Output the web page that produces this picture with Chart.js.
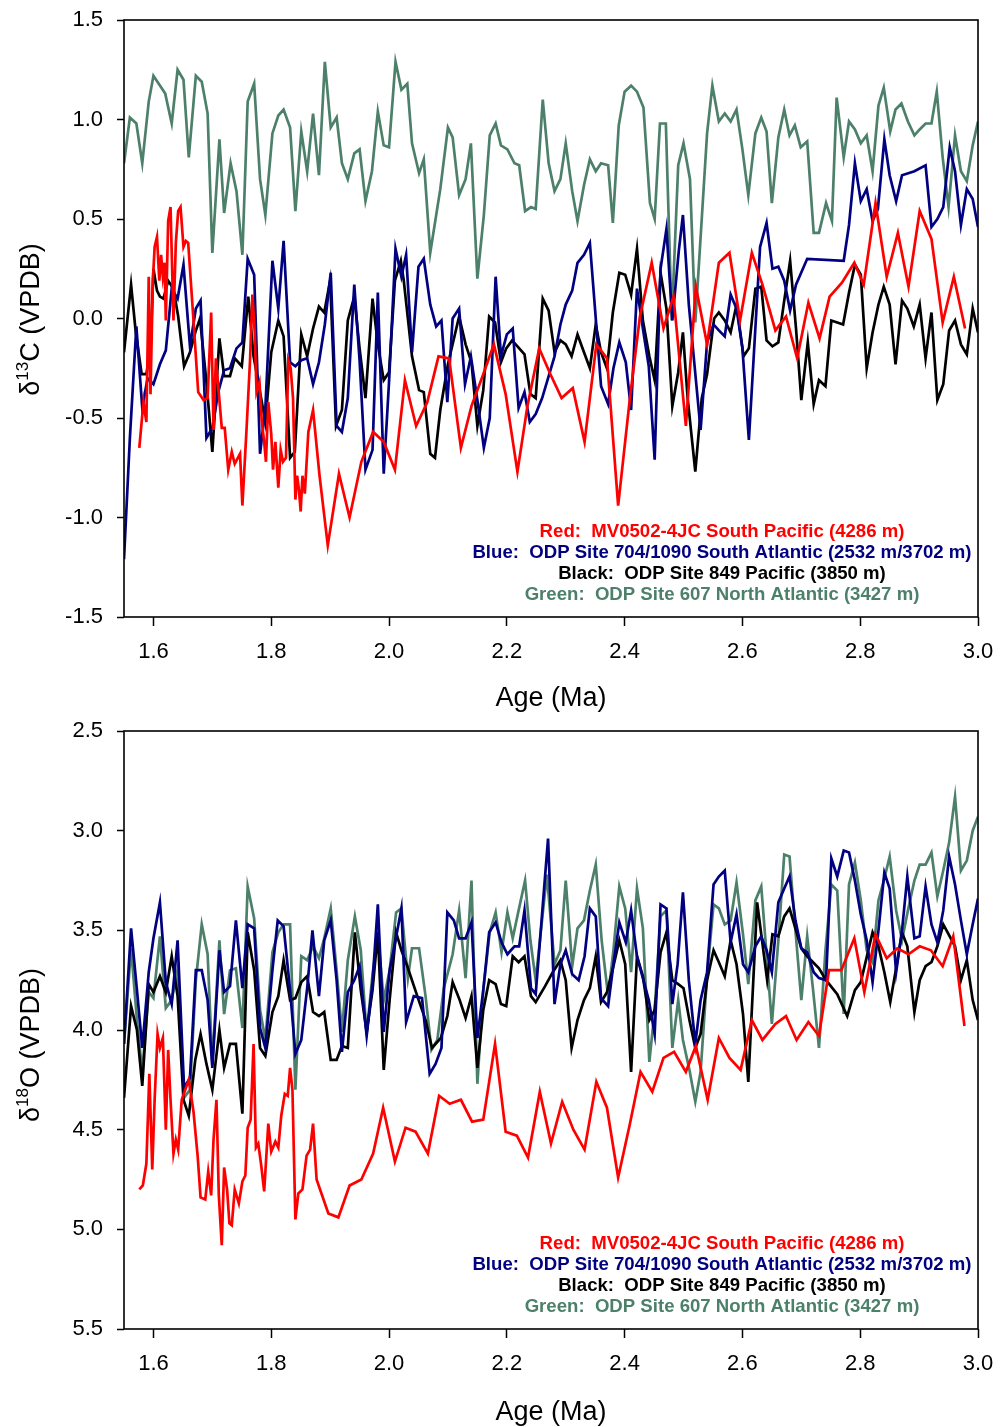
<!DOCTYPE html>
<html>
<head>
<meta charset="utf-8">
<script src="https://cdn.jsdelivr.net/npm/chart.js@4.4.1/dist/chart.umd.min.js"></script>
<style>
  html, body { margin: 0; padding: 0; background: #fff; }
  canvas { display: block; }
</style>
</head>
<body>
<canvas id="carbonGraph" width="1000" height="715"></canvas>
<canvas id="oxygenGraph" width="1000" height="712"></canvas>
<script>
// Axis ticks
const ageTicks = [1.6, 1.8, 2.0, 2.2, 2.4, 2.6, 2.8, 3.0];
const c13Ticks = [-1.5, -1.0, -0.5, 0.0, 0.5, 1.0, 1.5];
const o18Ticks = [2.5, 3.0, 3.5, 4.0, 4.5, 5.0, 5.5];

// Site labels, in the order red, blue, black, green
const siteNotes = [
    'Red:  MV0502-4JC South Pacific (4286 m)',
    'Blue:  ODP Site 704/1090 South Atlantic (2532 m/3702 m)',
    'Black:  ODP Site 849 Pacific (3850 m)',
    'Green:  ODP Site 607 North Atlantic (3427 m)'
];
const siteColors = ['#ff0000', '#000080', '#000000', '#4d806a'];

// d13C records: [age (Ma), value]
const c13Red = [
    [1.576,-0.65],[1.583,-0.42],[1.588,-0.52],[1.592,0.21],[1.595,-0.38],[1.599,0.19],[1.602,0.36],[1.606,0.41],
    [1.610,0.19],[1.613,0.32],[1.616,0.21],[1.619,0.28],[1.621,-0.01],[1.625,0.49],[1.629,0.56],[1.634,-0.01],
    [1.638,0.38],[1.642,0.54],[1.646,0.56],[1.651,0.36],[1.655,0.39],[1.659,0.38],[1.668,-0.01],[1.676,-0.37],
    [1.685,-0.41],[1.692,-0.40],[1.698,0.03],[1.702,-0.56],[1.706,-0.20],[1.712,-0.41],[1.716,-0.55],[1.721,-0.55],
    [1.727,-0.76],[1.733,-0.67],[1.738,-0.73],[1.747,-0.68],[1.751,-0.94],[1.758,-0.56],[1.764,-0.21],[1.768,0.12],
    [1.772,-0.07],[1.775,-0.37],[1.780,-0.32],[1.784,-0.52],[1.788,-0.62],[1.791,-0.72],[1.795,-0.42],[1.800,-0.58],
    [1.803,-0.76],[1.807,-0.62],[1.812,-0.85],[1.816,-0.66],[1.820,-0.72],[1.825,-0.70],[1.829,-0.21],[1.833,-0.25],
    [1.837,-0.40],[1.841,-0.91],[1.844,-0.79],[1.847,-0.86],[1.850,-0.97],[1.853,-0.79],[1.857,-0.88],[1.863,-0.57],
    [1.871,-0.46],[1.882,-0.79],[1.896,-1.14],[1.915,-0.78],[1.933,-1.00],[1.953,-0.72],[1.973,-0.57],[1.991,-0.62],
    [2.010,-0.76],[2.027,-0.31],[2.046,-0.54],[2.065,-0.42],[2.084,-0.19],[2.102,-0.20],[2.122,-0.65],[2.140,-0.44],
    [2.160,-0.28],[2.178,-0.13],[2.198,-0.38],[2.218,-0.77],[2.235,-0.44],[2.255,-0.15],[2.274,-0.28],[2.293,-0.40],
    [2.312,-0.35],[2.332,-0.62],[2.352,-0.13],[2.370,-0.20],[2.389,-0.94],[2.409,-0.40],[2.426,0.01],[2.446,0.28],
    [2.466,-0.05],[2.483,0.11],[2.504,-0.54],[2.521,0.16],[2.540,-0.13],[2.560,0.28],[2.578,0.33],[2.596,-0.01],
    [2.616,0.33],[2.634,0.17],[2.656,-0.06],[2.674,0.01],[2.693,-0.20],[2.712,0.08],[2.731,-0.10],[2.748,0.11],
    [2.769,0.18],[2.790,0.28],[2.806,0.17],[2.826,0.58],[2.845,0.21],[2.864,0.43],[2.882,0.16],[2.901,0.54],
    [2.921,0.40],[2.940,-0.02],[2.959,0.21],[2.978,-0.05]
];
const c13Blue = [
    [1.550,-1.21],[1.560,-0.60],[1.571,-0.04],[1.581,-0.45],[1.590,-0.30],[1.600,-0.33],[1.611,-0.23],[1.621,-0.16],
    [1.631,0.15],[1.641,0.10],[1.651,0.27],[1.662,-0.14],[1.672,0.05],[1.680,0.09],[1.690,-0.60],[1.700,-0.55],
    [1.710,-0.37],[1.720,-0.26],[1.730,-0.25],[1.741,-0.15],[1.751,-0.12],[1.760,0.30],[1.771,0.22],[1.781,-0.68],
    [1.790,-0.45],[1.802,0.29],[1.812,0.05],[1.821,0.39],[1.832,-0.22],[1.841,-0.24],[1.851,-0.21],[1.861,-0.20],
    [1.871,-0.33],[1.881,-0.22],[1.891,-0.03],[1.901,0.23],[1.911,-0.54],[1.920,-0.57],[1.930,-0.40],[1.941,0.17],
    [1.950,-0.21],[1.960,-0.76],[1.972,-0.66],[1.981,0.13],[1.991,-0.78],[2.000,-0.32],[2.011,0.35],[2.021,0.21],
    [2.029,0.32],[2.039,-0.17],[2.050,0.26],[2.059,0.30],[2.070,0.07],[2.080,-0.04],[2.089,-0.01],[2.099,-0.42],
    [2.108,0.00],[2.119,0.05],[2.129,-0.33],[2.139,-0.19],[2.150,-0.41],[2.161,-0.65],[2.171,-0.50],[2.181,0.21],
    [2.190,-0.19],[2.200,-0.08],[2.210,-0.05],[2.220,-0.45],[2.230,-0.37],[2.239,-0.52],[2.249,-0.48],[2.260,-0.40],
    [2.281,-0.19],[2.291,-0.03],[2.300,0.07],[2.311,0.14],[2.320,0.28],[2.331,0.32],[2.341,0.38],[2.360,-0.34],
    [2.372,-0.43],[2.381,-0.25],[2.391,-0.12],[2.402,-0.22],[2.411,-0.46],[2.421,0.15],[2.431,-0.05],[2.441,-0.24],
    [2.451,-0.71],[2.461,0.25],[2.471,0.45],[2.481,-0.01],[2.492,0.34],[2.499,0.52],[2.509,0.07],[2.529,-0.56],
    [2.540,-0.12],[2.551,-0.03],[2.560,-0.06],[2.570,-0.09],[2.580,0.12],[2.590,0.05],[2.600,-0.15],[2.611,-0.61],
    [2.630,0.36],[2.641,0.48],[2.651,0.25],[2.661,0.26],[2.671,0.19],[2.681,0.04],[2.691,0.17],[2.710,0.30],
    [2.772,0.29],[2.781,0.47],[2.791,0.78],[2.801,0.59],[2.811,0.65],[2.821,0.49],[2.830,0.55],[2.841,0.90],
    [2.850,0.72],[2.861,0.59],[2.871,0.72],[2.892,0.74],[2.911,0.77],[2.921,0.46],[2.931,0.50],[2.941,0.56],
    [2.952,0.86],[2.961,0.74],[2.971,0.47],[2.981,0.65],[2.991,0.60],[3.000,0.46]
];
const c13Black = [
    [1.550,-0.17],[1.562,0.17],[1.570,-0.07],[1.580,-0.28],[1.588,-0.28],[1.595,-0.15],[1.600,0.25],[1.606,0.14],
    [1.611,0.11],[1.617,0.10],[1.625,0.19],[1.634,0.15],[1.642,0.01],[1.652,-0.24],[1.662,-0.17],[1.671,-0.07],
    [1.679,0.00],[1.690,-0.32],[1.700,-0.67],[1.712,-0.10],[1.720,-0.29],[1.730,-0.29],[1.738,-0.20],[1.750,-0.24],
    [1.761,0.11],[1.770,-0.19],[1.778,-0.32],[1.790,-0.52],[1.800,-0.17],[1.812,-0.01],[1.821,-0.09],[1.832,-0.70],
    [1.840,-0.67],[1.851,-0.08],[1.861,-0.19],[1.871,-0.05],[1.881,0.06],[1.890,0.03],[1.900,0.19],[1.910,-0.54],
    [1.920,-0.46],[1.930,-0.01],[1.941,0.11],[1.950,-0.15],[1.960,-0.40],[1.972,0.10],[1.981,-0.13],[1.991,-0.31],
    [2.000,-0.27],[2.010,0.19],[2.020,0.29],[2.025,0.19],[2.039,-0.19],[2.051,-0.36],[2.059,-0.37],[2.070,-0.68],
    [2.078,-0.70],[2.087,-0.46],[2.100,-0.23],[2.119,0.01],[2.130,-0.13],[2.140,-0.22],[2.150,-0.54],[2.160,-0.36],
    [2.170,0.01],[2.180,-0.02],[2.190,-0.22],[2.199,-0.15],[2.209,-0.11],[2.230,-0.18],[2.240,-0.38],[2.249,-0.40],
    [2.261,0.10],[2.271,0.04],[2.281,-0.17],[2.291,-0.11],[2.300,-0.13],[2.310,-0.19],[2.320,-0.08],[2.331,-0.17],
    [2.341,-0.25],[2.351,-0.03],[2.360,-0.17],[2.370,-0.25],[2.380,0.03],[2.391,0.23],[2.401,0.22],[2.411,0.12],
    [2.421,0.35],[2.431,-0.01],[2.442,-0.19],[2.451,-0.31],[2.461,0.23],[2.471,0.05],[2.481,-0.44],[2.491,-0.27],
    [2.499,-0.07],[2.507,-0.40],[2.520,-0.77],[2.531,-0.40],[2.540,-0.28],[2.552,0.00],[2.560,0.03],[2.570,-0.01],
    [2.580,-0.07],[2.590,0.07],[2.602,-0.19],[2.611,-0.15],[2.622,0.15],[2.632,0.16],[2.641,-0.11],[2.651,-0.14],
    [2.661,-0.12],[2.671,0.09],[2.681,0.29],[2.691,-0.05],[2.700,-0.41],[2.711,-0.12],[2.721,-0.43],[2.730,-0.31],
    [2.741,-0.34],[2.751,-0.01],[2.761,-0.02],[2.771,-0.03],[2.781,0.13],[2.791,0.27],[2.801,0.22],[2.811,-0.25],
    [2.821,-0.07],[2.831,0.07],[2.840,0.16],[2.850,0.07],[2.860,-0.23],[2.871,0.09],[2.880,0.05],[2.891,-0.04],
    [2.901,0.07],[2.911,-0.20],[2.921,0.03],[2.931,-0.41],[2.941,-0.33],[2.951,-0.06],[2.961,-0.01],[2.971,-0.13],
    [2.981,-0.18],[2.991,0.05],[3.000,-0.07]
];
const c13Green = [
    [1.550,0.78],[1.560,1.01],[1.571,0.98],[1.581,0.78],[1.592,1.09],[1.600,1.22],[1.620,1.13],[1.631,0.98],
    [1.641,1.25],[1.651,1.20],[1.660,0.81],[1.672,1.22],[1.682,1.19],[1.692,1.03],[1.700,0.33],[1.712,0.90],
    [1.720,0.53],[1.731,0.78],[1.741,0.64],[1.751,0.32],[1.760,1.09],[1.771,1.18],[1.781,0.70],[1.790,0.52],
    [1.802,0.93],[1.812,1.02],[1.821,1.05],[1.832,0.96],[1.841,0.54],[1.851,0.94],[1.861,0.74],[1.871,1.03],
    [1.881,0.72],[1.891,1.29],[1.901,0.96],[1.911,1.01],[1.920,0.78],[1.930,0.70],[1.941,0.83],[1.950,0.85],
    [1.960,0.59],[1.971,0.74],[1.981,1.04],[1.991,0.87],[2.000,0.86],[2.011,1.29],[2.021,1.15],[2.031,1.18],
    [2.039,0.88],[2.051,0.73],[2.059,0.80],[2.070,0.33],[2.087,0.65],[2.100,0.96],[2.108,0.91],[2.119,0.62],
    [2.130,0.70],[2.139,0.88],[2.150,0.20],[2.161,0.52],[2.171,0.92],[2.181,0.98],[2.190,0.87],[2.201,0.85],
    [2.213,0.78],[2.221,0.77],[2.231,0.54],[2.241,0.56],[2.249,0.55],[2.261,1.10],[2.271,0.78],[2.281,0.64],
    [2.291,0.70],[2.300,0.88],[2.311,0.64],[2.320,0.49],[2.331,0.67],[2.341,0.80],[2.351,0.74],[2.360,0.78],
    [2.372,0.77],[2.380,0.48],[2.390,0.97],[2.400,1.14],[2.411,1.17],[2.421,1.14],[2.432,1.06],[2.443,0.58],
    [2.451,0.50],[2.460,0.98],[2.470,0.98],[2.480,-0.01],[2.491,0.77],[2.500,0.88],[2.511,0.70],[2.520,-0.02],
    [2.540,0.93],[2.549,1.17],[2.560,0.99],[2.570,1.03],[2.580,0.99],[2.590,1.05],[2.600,0.85],[2.610,0.62],
    [2.622,0.93],[2.632,1.01],[2.641,0.94],[2.650,0.58],[2.661,0.91],[2.671,1.05],[2.680,0.92],[2.689,0.97],
    [2.699,0.86],[2.710,0.89],[2.721,0.43],[2.730,0.43],[2.742,0.58],[2.752,0.49],[2.760,1.11],[2.772,0.81],
    [2.781,0.99],[2.791,0.95],[2.801,0.88],[2.811,0.92],[2.821,0.74],[2.831,1.07],[2.840,1.16],[2.851,0.94],
    [2.860,1.05],[2.870,1.08],[2.881,0.99],[2.892,0.92],[2.901,0.95],[2.911,0.98],[2.921,0.98],[2.930,1.14],
    [2.940,0.81],[2.950,0.56],[2.961,0.92],[2.971,0.74],[2.981,0.69],[2.991,0.87],[3.000,0.99]
];

// d18O records: [age (Ma), value]
const o18Red = [
    [1.576,4.80],[1.582,4.78],[1.588,4.67],[1.593,4.22],[1.598,4.70],[1.602,4.35],[1.607,4.02],[1.611,4.09],
    [1.616,4.04],[1.621,4.50],[1.625,4.10],[1.629,4.35],[1.634,4.62],[1.638,4.55],[1.642,4.60],[1.648,4.35],
    [1.654,4.30],[1.660,4.25],[1.668,4.41],[1.675,4.63],[1.680,4.84],[1.688,4.85],[1.693,4.71],[1.698,4.83],
    [1.702,4.55],[1.707,4.35],[1.711,4.83],[1.716,5.08],[1.720,4.69],[1.725,4.80],[1.729,4.97],[1.733,4.98],
    [1.738,4.80],[1.745,4.87],[1.751,4.76],[1.756,4.73],[1.760,4.49],[1.765,4.45],[1.770,4.07],[1.774,4.59],
    [1.778,4.57],[1.783,4.68],[1.788,4.81],[1.795,4.47],[1.800,4.61],[1.807,4.56],[1.812,4.59],[1.817,4.43],
    [1.823,4.32],[1.828,4.33],[1.832,4.19],[1.836,4.30],[1.841,4.95],[1.846,4.82],[1.853,4.80],[1.860,4.63],
    [1.866,4.60],[1.871,4.47],[1.877,4.75],[1.897,4.92],[1.914,4.94],[1.933,4.78],[1.953,4.75],[1.973,4.62],
    [1.990,4.39],[2.010,4.66],[2.028,4.49],[2.045,4.51],[2.066,4.62],[2.085,4.33],[2.103,4.37],[2.122,4.35],
    [2.141,4.46],[2.160,4.45],[2.180,4.07],[2.198,4.51],[2.217,4.53],[2.236,4.64],[2.256,4.31],[2.275,4.57],
    [2.294,4.36],[2.313,4.50],[2.332,4.60],[2.352,4.26],[2.370,4.39],[2.389,4.74],[2.409,4.47],[2.427,4.21],
    [2.447,4.31],[2.466,4.14],[2.484,4.11],[2.504,4.21],[2.521,4.08],[2.541,4.35],[2.560,4.04],[2.578,4.14],
    [2.597,4.20],[2.616,3.95],[2.634,4.05],[2.656,3.97],[2.674,3.93],[2.692,4.05],[2.712,3.96],[2.730,4.03],
    [2.747,3.70],[2.768,3.70],[2.790,3.54],[2.807,3.81],[2.826,3.52],[2.845,3.64],[2.863,3.59],[2.882,3.62],
    [2.901,3.58],[2.920,3.60],[2.940,3.68],[2.958,3.53],[2.977,3.98]
];
const o18Blue = [
    [1.550,4.07],[1.562,3.49],[1.572,3.80],[1.581,4.09],[1.592,3.71],[1.600,3.54],[1.611,3.36],[1.621,3.76],
    [1.631,3.87],[1.641,3.55],[1.652,4.29],[1.662,4.24],[1.672,3.70],[1.682,3.70],[1.692,3.85],[1.700,4.19],
    [1.712,3.60],[1.720,3.81],[1.730,3.78],[1.740,3.45],[1.751,3.79],[1.760,3.47],[1.771,3.49],[1.781,3.99],
    [1.790,4.09],[1.802,3.70],[1.811,3.45],[1.821,3.48],[1.832,3.80],[1.841,4.12],[1.851,4.05],[1.861,3.79],
    [1.870,3.50],[1.881,3.83],[1.890,3.55],[1.901,3.45],[1.911,3.75],[1.920,4.11],[1.930,3.81],[1.941,3.75],
    [1.950,3.68],[1.962,4.03],[1.972,3.76],[1.981,3.37],[1.991,4.01],[2.001,3.70],[2.011,3.55],[2.021,3.39],
    [2.029,3.96],[2.042,3.83],[2.056,3.84],[2.069,4.22],[2.079,4.17],[2.089,4.09],[2.099,3.41],[2.110,3.45],
    [2.119,3.54],[2.130,3.54],[2.140,3.46],[2.150,4.04],[2.160,3.80],[2.170,3.51],[2.181,3.46],[2.191,3.56],
    [2.201,3.62],[2.213,3.58],[2.221,3.58],[2.230,3.40],[2.241,3.79],[2.249,3.82],[2.259,3.45],[2.270,3.04],
    [2.281,3.87],[2.291,3.67],[2.300,3.60],[2.311,3.72],[2.322,3.75],[2.332,3.63],[2.341,3.39],[2.351,3.43],
    [2.360,3.84],[2.372,3.88],[2.381,3.67],[2.391,3.46],[2.402,3.56],[2.411,3.40],[2.421,3.63],[2.431,3.74],
    [2.441,3.85],[2.451,4.02],[2.461,3.37],[2.471,3.39],[2.481,3.87],[2.490,3.67],[2.499,3.31],[2.509,3.75],
    [2.520,4.07],[2.529,3.85],[2.540,3.71],[2.551,3.27],[2.560,3.23],[2.570,3.20],[2.580,3.56],[2.590,3.42],
    [2.601,3.67],[2.610,3.71],[2.622,3.58],[2.632,3.53],[2.641,3.60],[2.650,3.71],[2.661,3.36],[2.671,3.29],
    [2.680,3.23],[2.690,3.45],[2.700,3.59],[2.710,3.61],[2.721,3.71],[2.730,3.74],[2.742,3.75],[2.751,3.14],
    [2.761,3.23],[2.772,3.10],[2.781,3.11],[2.791,3.25],[2.801,3.42],[2.811,3.55],[2.821,3.76],[2.831,3.50],
    [2.841,3.21],[2.850,3.29],[2.861,3.71],[2.871,3.50],[2.880,3.23],[2.892,3.54],[2.901,3.53],[2.911,3.28],
    [2.921,3.47],[2.931,3.56],[2.941,3.40],[2.951,3.13],[2.961,3.27],[2.971,3.45],[2.981,3.62],[2.991,3.47],
    [3.000,3.34]
];
const o18Black = [
    [1.550,4.34],[1.562,3.88],[1.572,4.00],[1.581,4.28],[1.592,3.77],[1.600,3.81],[1.611,3.73],[1.621,3.81],
    [1.631,3.63],[1.641,3.83],[1.651,4.35],[1.660,4.43],[1.671,4.15],[1.680,4.02],[1.690,4.17],[1.700,4.30],
    [1.712,4.00],[1.720,4.19],[1.730,4.07],[1.740,4.07],[1.751,4.42],[1.760,3.51],[1.771,3.70],[1.781,4.09],
    [1.790,4.13],[1.802,3.91],[1.812,3.83],[1.821,3.65],[1.832,3.85],[1.841,3.84],[1.851,3.76],[1.861,3.73],
    [1.871,3.91],[1.881,3.93],[1.890,3.91],[1.901,4.15],[1.911,4.15],[1.920,4.08],[1.930,4.09],[1.942,3.51],
    [1.952,3.80],[1.962,4.01],[1.972,3.80],[1.981,3.51],[1.991,4.20],[2.001,3.85],[2.012,3.51],[2.021,3.60],
    [2.031,3.68],[2.048,3.83],[2.062,3.95],[2.073,4.09],[2.088,4.04],[2.099,3.93],[2.108,3.76],[2.120,3.85],
    [2.130,3.94],[2.140,3.83],[2.150,4.19],[2.160,3.90],[2.170,3.75],[2.181,3.77],[2.190,3.87],[2.199,3.88],
    [2.210,3.63],[2.220,3.66],[2.230,3.63],[2.241,3.83],[2.249,3.86],[2.265,3.78],[2.278,3.71],[2.291,3.65],
    [2.300,3.75],[2.310,4.09],[2.320,3.95],[2.331,3.85],[2.341,3.79],[2.351,3.63],[2.360,3.86],[2.370,3.81],
    [2.381,3.68],[2.391,3.55],[2.401,3.67],[2.411,4.21],[2.421,3.63],[2.431,3.73],[2.442,3.95],[2.451,3.90],
    [2.461,3.61],[2.471,3.51],[2.481,3.75],[2.491,3.77],[2.500,3.79],[2.510,3.95],[2.520,4.09],[2.529,4.02],
    [2.540,3.75],[2.551,3.60],[2.560,3.66],[2.570,3.73],[2.580,3.55],[2.590,3.67],[2.601,3.92],[2.610,4.26],
    [2.625,3.36],[2.642,3.75],[2.651,3.52],[2.661,3.53],[2.671,3.43],[2.680,3.39],[2.691,3.50],[2.700,3.59],
    [2.710,3.63],[2.730,3.69],[2.742,3.75],[2.761,3.82],[2.778,3.93],[2.791,3.80],[2.801,3.76],[2.821,3.51],
    [2.831,3.58],[2.841,3.71],[2.851,3.86],[2.861,3.69],[2.871,3.51],[2.880,3.58],[2.892,3.91],[2.901,3.75],
    [2.911,3.68],[2.921,3.66],[2.931,3.58],[2.941,3.47],[2.961,3.58],[2.971,3.75],[2.981,3.65],[2.991,3.85],
    [3.000,3.95]
];
const o18Green = [
    [1.550,4.07],[1.562,3.59],[1.572,3.95],[1.581,4.21],[1.592,3.81],[1.600,3.84],[1.611,3.53],[1.621,3.89],
    [1.631,3.85],[1.641,3.70],[1.652,4.34],[1.662,4.30],[1.672,3.75],[1.682,3.47],[1.692,3.62],[1.700,4.17],
    [1.712,3.55],[1.720,3.92],[1.730,3.70],[1.740,3.69],[1.751,3.99],[1.760,3.28],[1.771,3.44],[1.781,3.90],
    [1.790,4.05],[1.802,3.61],[1.812,3.51],[1.821,3.47],[1.832,3.47],[1.841,4.30],[1.851,3.63],[1.861,3.65],
    [1.871,3.58],[1.881,3.64],[1.890,3.54],[1.901,3.39],[1.911,3.70],[1.920,4.01],[1.930,3.65],[1.942,3.43],
    [1.952,3.60],[1.962,4.02],[1.972,3.72],[1.981,3.52],[1.991,3.85],[2.001,3.70],[2.012,3.41],[2.021,3.39],
    [2.032,3.74],[2.039,3.59],[2.051,3.59],[2.062,3.83],[2.072,4.10],[2.082,4.05],[2.093,3.79],[2.108,3.62],
    [2.119,3.40],[2.130,3.74],[2.140,3.25],[2.150,4.27],[2.160,3.80],[2.171,3.51],[2.181,3.41],[2.191,3.61],
    [2.201,3.41],[2.210,3.54],[2.220,3.40],[2.231,3.25],[2.240,3.55],[2.249,3.75],[2.258,3.50],[2.268,3.22],
    [2.281,3.67],[2.291,3.60],[2.300,3.25],[2.311,3.68],[2.320,3.49],[2.331,3.45],[2.341,3.30],[2.351,3.17],
    [2.361,3.55],[2.372,3.83],[2.381,3.60],[2.391,3.28],[2.401,3.39],[2.411,3.71],[2.421,3.29],[2.431,3.49],
    [2.442,4.16],[2.451,3.90],[2.461,3.43],[2.471,3.40],[2.481,4.09],[2.491,3.85],[2.499,4.05],[2.510,4.20],
    [2.520,4.36],[2.529,4.21],[2.540,3.73],[2.551,3.37],[2.560,3.39],[2.570,3.47],[2.580,3.45],[2.590,3.26],
    [2.601,3.52],[2.610,3.77],[2.622,3.35],[2.632,3.28],[2.641,3.62],[2.650,3.97],[2.661,3.55],[2.671,3.12],
    [2.680,3.13],[2.690,3.50],[2.700,3.85],[2.710,3.53],[2.720,3.80],[2.730,4.09],[2.741,3.60],[2.751,3.27],
    [2.761,3.30],[2.772,3.92],[2.781,3.27],[2.791,3.16],[2.801,3.35],[2.811,3.60],[2.821,3.66],[2.831,3.35],
    [2.841,3.24],[2.850,3.13],[2.861,3.40],[2.871,3.55],[2.881,3.40],[2.892,3.25],[2.901,3.17],[2.911,3.17],
    [2.921,3.11],[2.931,3.33],[2.941,3.20],[2.951,3.06],[2.961,2.83],[2.971,3.20],[2.981,3.15],[2.991,3.00],
    [3.000,2.93]
];

const FONT = '"Liberation Sans", Arial, Helvetica, sans-serif';

const toPoints = rows => rows.map(r => ({ x: r[0], y: r[1] }));

function makeDatasets(records) {
    return records.map((rows, i) => ({
        data: toPoints(rows),
        borderColor: siteColors[i],
        backgroundColor: siteColors[i],
        borderWidth: 2.7,
        pointRadius: 0,
        tension: 0,
        fill: false
    }));
}

// Box round the plot area
const frame = {
    id: 'frame',
    afterDatasetsDraw(chart) {
        const { ctx, chartArea: a } = chart;
        ctx.save();
        ctx.strokeStyle = '#000';
        ctx.lineWidth = 1.6;
        ctx.strokeRect(a.left, a.top, a.right - a.left, a.bottom - a.top);
        ctx.restore();
    }
};

// Rotated y title with a superscript isotope number
const yTitle = {
    id: 'yTitle',
    afterDraw(chart, args, opts) {
        const { ctx, chartArea: a } = chart;
        const big = '27px ' + FONT, small = '17px ' + FONT;
        ctx.save();
        ctx.translate(opts.x, (a.top + a.bottom) / 2 + opts.shift);
        ctx.rotate(-Math.PI / 2);
        ctx.fillStyle = '#000';
        ctx.textAlign = 'left';
        ctx.textBaseline = 'alphabetic';
        let total = 0;
        opts.parts.forEach(([t, sup]) => { ctx.font = sup ? small : big; total += ctx.measureText(t).width; });
        let x = -total / 2;
        opts.parts.forEach(([t, sup]) => {
            ctx.font = sup ? small : big;
            ctx.fillText(t, x, sup ? -11 : 0);
            x += ctx.measureText(t).width;
        });
        ctx.restore();
    }
};

// Site key in the lower right of each panel
const siteKey = {
    id: 'siteKey',
    afterDatasetsDraw(chart) {
        const { ctx, chartArea: a } = chart;
        const offsets = [-85.5, -64.5, -43, -22];
        ctx.save();
        ctx.font = 'bold 18.6px ' + FONT;
        ctx.textAlign = 'center';
        ctx.textBaseline = 'middle';
        siteNotes.forEach((t, i) => {
            ctx.fillStyle = siteColors[i];
            ctx.fillText(t, a.right - 256, a.bottom + offsets[i]);
        });
        ctx.restore();
    }
};

function ageAxis(titlePad) {
    return {
        type: 'linear',
        min: 1.55,
        max: 3.0,
        afterBuildTicks: s => { s.ticks = ageTicks.map(v => ({ value: v })); },
        afterFit: s => { s.height = 98; s.paddingLeft = 0; s.paddingRight = 0; },
        grid: { drawOnChartArea: false, drawTicks: true, tickLength: 9, tickWidth: 1.5, tickColor: '#000' },
        border: { display: false },
        ticks: {
            color: '#000', padding: 13, maxRotation: 0, autoSkip: false,
            font: { size: 22, family: FONT },
            callback: v => Number(v).toFixed(1)
        },
        title: {
            display: true, text: 'Age (Ma)', color: '#000',
            font: { size: 27, family: FONT },
            padding: { top: 0, bottom: titlePad }
        }
    };
}

function valueAxis(tickList, reverse) {
    return {
        type: 'linear',
        min: tickList[0],
        max: tickList[tickList.length - 1],
        reverse: reverse,
        afterBuildTicks: s => { s.ticks = tickList.map(v => ({ value: v })); },
        afterFit: s => { s.width = 124; s.paddingTop = 0; s.paddingBottom = 0; },
        grid: { drawOnChartArea: false, drawTicks: true, tickLength: 7, tickWidth: 1.5, tickColor: '#000' },
        border: { display: false },
        ticks: {
            color: '#000', padding: 14,
            font: { size: 22, family: FONT },
            callback: v => Number(v).toFixed(1)
        }
    };
}

function makePanel(id, records, tickList, reverse, padTop, titlePad, titleParts, titleShift) {
    return new Chart(document.getElementById(id), {
        type: 'line',
        data: { datasets: makeDatasets(records) },
        options: {
            responsive: false,
            animation: false,
            devicePixelRatio: 1,
            layout: { padding: { top: padTop, right: 22, left: 0, bottom: 0 } },
            scales: {
                x: ageAxis(titlePad),
                y: valueAxis(tickList, reverse)
            },
            plugins: {
                legend: { display: false },
                tooltip: { enabled: false },
                yTitle: { x: 39, shift: titleShift, parts: titleParts }
            }
        },
        plugins: [frame, yTitle, siteKey]
    });
}

// 1. Carbon isotopes
makePanel('carbonGraph', [c13Red, c13Blue, c13Black, c13Green], c13Ticks, false, 20, 0,
    [['\u03b4', false], ['13', true], ['C (VPDB)', false]], 1);

// 2. Oxygen isotopes, axis reversed
makePanel('oxygenGraph', [o18Red, o18Blue, o18Black, o18Green], o18Ticks, true, 16, -2,
    [['\u03b4', false], ['18', true], ['O (VPDB)', false]], 15);
</script>
</body>
</html>
